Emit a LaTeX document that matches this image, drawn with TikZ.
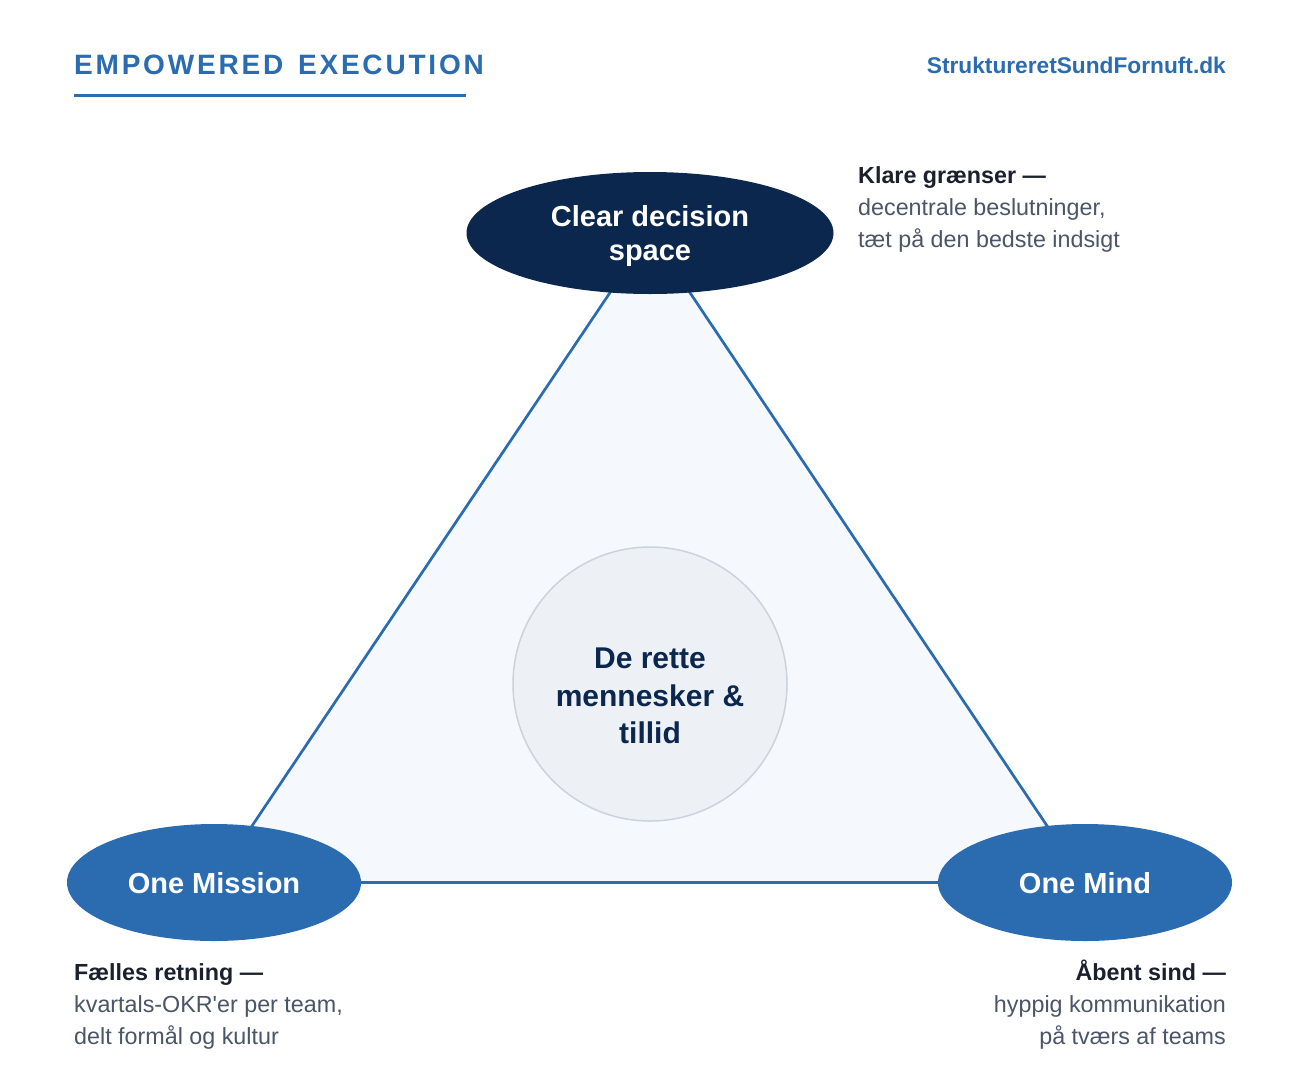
\documentclass[tikz,border=0pt]{standalone}
\usepackage{fontspec}
\setmainfont{Liberation Sans}
\newfontfamily\titlefont[LetterSpace=10,WordSpace=1.4]{Liberation Sans}
\usetikzlibrary{shapes.geometric}
\definecolor{brandblue}{RGB}{43,108,176}
\definecolor{navy}{RGB}{11,39,77}
\definecolor{trifill}{RGB}{245,248,252}
\definecolor{circfill}{RGB}{237,241,246}
\definecolor{circline}{RGB}{203,211,221}
\definecolor{darktext}{RGB}{26,32,44}
\definecolor{graytext}{RGB}{74,85,104}
\tikzset{
  pillar/.style={ellipse, draw=none, inner sep=0pt},
  pillartext/.style={text=white, font=\bfseries\fontsize{29}{34}\selectfont, align=center, inner sep=0pt},
  headline/.style={anchor=base west, inner sep=0pt, text=darktext, font=\bfseries\fontsize{23.3}{32}\selectfont},
  bodyline/.style={anchor=base west, inner sep=0pt, text=graytext, font=\fontsize{23.3}{32}\selectfont},
}
\begin{document}
\begin{tikzpicture}[x=1pt,y=-1pt]
\useasboundingbox (0,0) rectangle (1300,1079);
\fill[white] (0,0) rectangle (1300,1079);
% header
\node[anchor=base west, inner sep=0pt, text=brandblue, font=\titlefont\bfseries\fontsize{28}{34}\selectfont] (title) at (74,74) {EMPOWERED EXECUTION};
\draw[brandblue, line width=3pt] (74,95) coordinate (ulA) -- (466,95) coordinate (ulB);
\node[anchor=base east, inner sep=0pt, text=brandblue, font=\bfseries\fontsize{22.7}{28}\selectfont] (url) at (1226,73) {StruktureretSundFornuft.dk};
% vertices
\coordinate (vtop) at (650,233);
\coordinate (vleft) at (214,882.5);
\coordinate (vright) at (1085,882.5);
\filldraw[fill=trifill, draw=brandblue, line width=2.7pt, line join=round] (vtop) -- (vleft) -- (vright) -- cycle;
% center circle
\node[circle, fill=circfill, draw=circline, line width=1.5pt, minimum size=274pt, inner sep=0pt] (core) at (650,684) {};
\node[text=navy, font=\bfseries\fontsize{30}{37.5}\selectfont, align=center, inner sep=0pt] (coretext) at (650,696) {De rette\\mennesker \&\\tillid};
% pillars
\node[pillar, fill=navy, minimum width=367pt, minimum height=122pt] (clear) at (vtop) {};
\node[pillartext] (cleartext) at (650,235.5) {Clear decision\\space};
\node[pillar, fill=brandblue, minimum width=294pt, minimum height=117pt] (mission) at (vleft) {};
\node[pillartext] (missiontext) at (214,883) {One Mission};
\node[pillar, fill=brandblue, minimum width=294pt, minimum height=117pt] (mind) at (vright) {};
\node[pillartext] (mindtext) at (1085,883) {One Mind};
% annotations top right
\node[headline] (k1) at (858,183) {Klare grænser —};
\node[bodyline] (k2) at (858,215) {decentrale beslutninger,};
\node[bodyline] (k3) at (858,247) {tæt på den bedste indsigt};
% annotations bottom left
\node[headline] (f1) at (74,980) {Fælles retning —};
\node[bodyline] (f2) at (74,1012) {kvartals-OKR\textquotesingle er per team,};
\node[bodyline] (f3) at (74,1044) {delt formål og kultur};
% annotations bottom right
\node[headline, anchor=base east] (a1) at (1226,980) {Åbent sind —};
\node[bodyline, anchor=base east] (a2) at (1226,1012) {hyppig kommunikation};
\node[bodyline, anchor=base east] (a3) at (1226,1044) {på tværs af teams};
\end{tikzpicture}
\end{document}
